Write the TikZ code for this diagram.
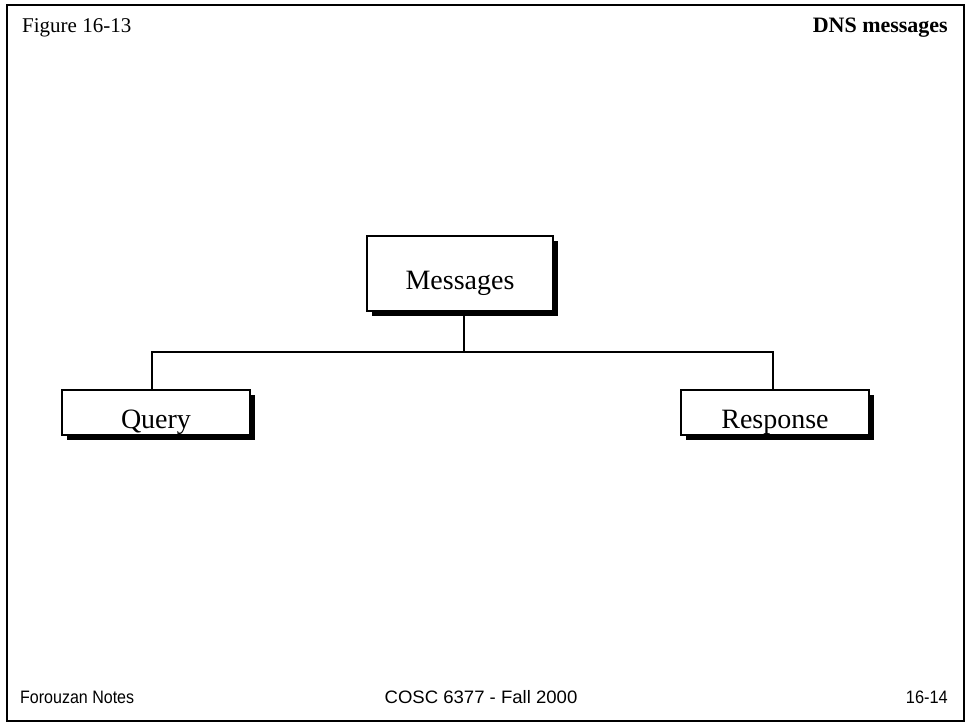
\documentclass[tikz,border=0pt]{standalone}
\usepackage{fontspec}
\setmainfont{Liberation Serif}
\newfontfamily\footfont{Liberation Sans}
\begin{document}
\begin{tikzpicture}[x=1pt,y=-1pt,
  boxstyle/.style={draw=black,line width=1.5pt,fill=white,inner sep=0pt},
  boxtext/.style={inner sep=0pt,font=\fontsize{28}{30}\selectfont,yshift=-10pt},
  shadowstyle/.style={fill=black},
  linkstyle/.style={line width=1.3pt},
  foot/.style={font=\footfont\fontsize{18}{20}\selectfont,anchor=base west,inner sep=0pt}]
\useasboundingbox (0,0) rectangle (969,723);
\draw[line width=1.5pt] (7,5) rectangle (964,721);
\node[anchor=base west,inner sep=0pt,font=\fontsize{21}{24}\selectfont] (fig) at (22,32) {Figure 16-13};
\node[anchor=base east,inner sep=0pt,font=\bfseries\fontsize{22}{24}\selectfont] (title) at (948,32) {DNS messages};
% shadows
\fill[shadowstyle] (372,241) rectangle (558,316);
\fill[shadowstyle] (67,395) rectangle (255,440);
\fill[shadowstyle] (686,395) rectangle (874,440);
\node[boxstyle,minimum width=186pt,minimum height=75pt] (msg) at (460,273.5) {};
\node[boxstyle,minimum width=188pt,minimum height=45pt] (query) at (156,412.5) {};
\node[boxstyle,minimum width=188pt,minimum height=45pt] (resp) at (775,412.5) {};
\node[boxtext] (msgt) at (msg.center) {Messages};
\node[boxtext] (queryt) at (query.center) {Query};
\node[boxtext] (respt) at (resp.center) {Response};
\coordinate (mid) at (464,352);
\draw[linkstyle] (msg.south -| mid) -- (mid);
\draw[linkstyle] (query.north -| 152,0) |- (mid) -| (resp.north -| 773,0);
\node[foot] (fn) at (20,703) {\addfontfeatures{FakeStretch=0.89}Forouzan Notes};
\node[foot,anchor=base] (fc) at (481,703) {\addfontfeatures{FakeStretch=1.03}COSC 6377 - Fall 2000};
\node[foot,anchor=base east] (fp) at (948,703) {\addfontfeatures{FakeStretch=0.91}16-14};
\end{tikzpicture}
\end{document}
